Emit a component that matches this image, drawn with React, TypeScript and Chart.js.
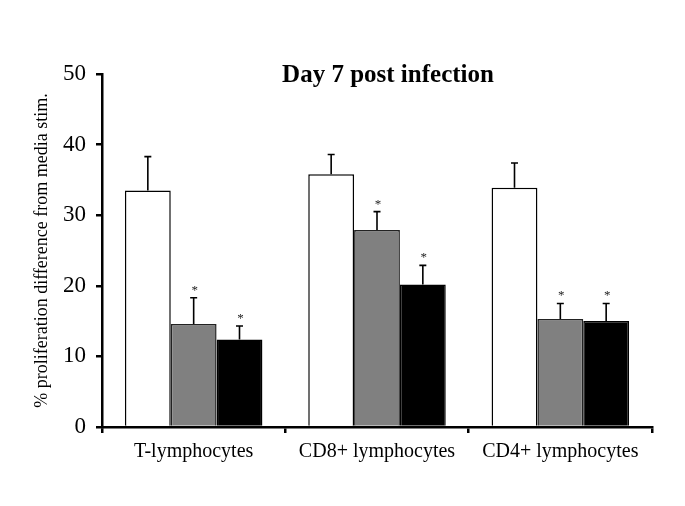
import React, { useEffect, useRef } from "react";
import { Chart, registerables } from "chart.js";

Chart.register(...registerables);

const categories = ["T-lymphocytes", "CD8+ lymphocytes", "CD4+ lymphocytes"];
const whiteValues = [33.5, 35.8, 33.9];
const whiteErrTop = [38.3, 38.6, 37.4];
const grayValues = [14.6, 27.9, 15.3];
const grayErrTop = [18.3, 30.5, 17.5];
const blackValues = [12.4, 20.2, 15.0];
const blackErrTop = [14.3, 22.9, 17.5];
const whiteStars = [false, false, false];
const grayStars = [true, true, true];
const blackStars = [true, true, true];
const yTicks = [0, 10, 20, 30, 40, 50];
const titleText = "Day 7 post infection";
const yTitle = "% proliferation difference from media stim.";

const SERIF = "'Liberation Serif', 'Times New Roman', serif";

const errTops = [whiteErrTop, grayErrTop, blackErrTop];
const stars = [whiteStars, grayStars, blackStars];

const errorBarPlugin = {
  id: "errorBars",
  afterDatasetsDraw(chart: any) {
    const { ctx } = chart;
    const yScale = chart.scales.y;
    ctx.save();
    chart.data.datasets.forEach((_ds: any, di: number) => {
      const meta = chart.getDatasetMeta(di);
      meta.data.forEach((bar: any, j: number) => {
        const x = bar.x;
        const yTop = bar.y;
        const yErr = yScale.getPixelForValue(errTops[di][j]);
        ctx.strokeStyle = "#000";
        ctx.lineWidth = 1.6;
        ctx.beginPath();
        ctx.moveTo(x, yTop);
        ctx.lineTo(x, yErr);
        ctx.moveTo(x - 3.5, yErr);
        ctx.lineTo(x + 3.5, yErr);
        ctx.stroke();
        if (stars[di][j]) {
          ctx.fillStyle = "#222";
          ctx.font = "13px " + SERIF;
          ctx.textAlign = "center";
          ctx.textBaseline = "alphabetic";
          ctx.fillText("*", x + 1, yErr - 4);
        }
      });
    });
    ctx.restore();
  },
};

const titlePlugin = {
  id: "customTitle",
  afterDraw(chart: any) {
    const { ctx } = chart;
    ctx.save();
    ctx.fillStyle = "#000";
    ctx.font = "bold 25px " + SERIF;
    ctx.textAlign = "center";
    ctx.textBaseline = "alphabetic";
    ctx.fillText(titleText, 388, 82);
    ctx.restore();
  },
};

export default function App() {
  const canvasRef = useRef<HTMLCanvasElement | null>(null);

  useEffect(() => {
    if (!canvasRef.current) return;
    const chart = new Chart(canvasRef.current, {
      type: "bar",
      data: {
        labels: categories,
        datasets: [
          {
            label: "Media",
            data: whiteValues,
            backgroundColor: "#ffffff",
            borderColor: "#000",
            borderWidth: 1.5,
          },
          {
            label: "Group 2",
            data: grayValues,
            backgroundColor: "#808080",
            borderColor: "#222",
            borderWidth: 1.5,
          },
          {
            label: "Group 3",
            data: blackValues,
            backgroundColor: "#000000",
            borderColor: "#000",
            borderWidth: 1.5,
          },
        ],
      },
      options: {
        responsive: false,
        animation: false,
        maintainAspectRatio: false,
        layout: { padding: { top: 74, right: 33, left: 0, bottom: 0 } },
        datasets: {
          bar: { categoryPercentage: 0.75, barPercentage: 1 },
        },
        plugins: {
          legend: { display: false },
          title: { display: false },
          tooltip: { enabled: false },
        },
        scales: {
          x: {
            type: "category",
            offset: true,
            grid: {
              display: true,
              drawOnChartArea: false,
              drawTicks: true,
              tickLength: 6,
              color: "#000",
              lineWidth: 2.5,
              offset: true,
            },
            border: { display: true, color: "#000", width: 2.5 },
            ticks: {
              color: "#000",
              font: { family: SERIF, size: 20 },
              padding: 7,
              maxRotation: 0,
            },
            afterFit(scale: any) {
              scale.height = 79;
            },
          },
          y: {
            min: 0,
            max: 50,
            afterBuildTicks(scale: any) {
              scale.ticks = yTicks.map((v) => ({ value: v }));
            },
            grid: {
              display: true,
              drawOnChartArea: false,
              drawTicks: true,
              tickLength: 6,
              color: "#000",
              lineWidth: 2.5,
            },
            border: { display: true, color: "#000", width: 2.5 },
            ticks: {
              color: "#000",
              font: { family: SERIF, size: 23 },
              padding: 10,
            },
            title: {
              display: true,
              text: yTitle,
              color: "#000",
              font: { family: SERIF, size: 18 },
              padding: { top: 31, bottom: 0 },
            },
            afterFit(scale: any) {
              scale.width = 102;
            },
          },
        },
      },
      plugins: [errorBarPlugin, titlePlugin],
    });
    return () => chart.destroy();
  }, []);

  return (
    <div style={{ position: "absolute", left: 0, top: 0, width: 685, height: 506, background: "#fff" }}>
      <canvas ref={canvasRef} width={685} height={506} style={{ width: 685, height: 506, display: "block" }} />
    </div>
  );
}
